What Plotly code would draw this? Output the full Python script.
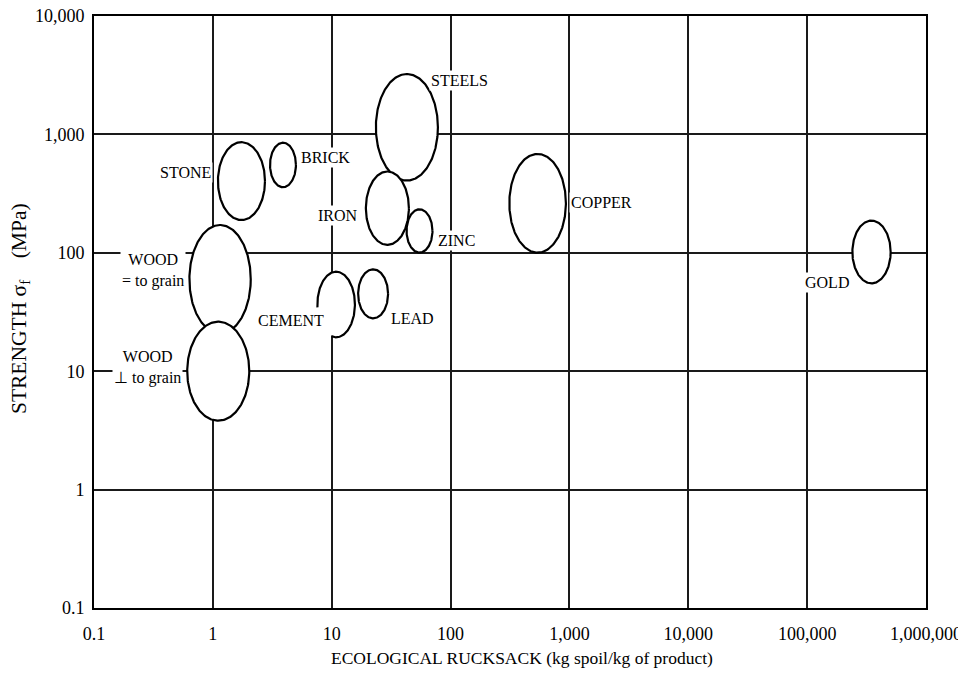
import numpy as np
import plotly.graph_objects as go

# ---- data ----
materials = ["STONE", "BRICK", "STEELS", "IRON", "ZINC", "WOOD =", "WOOD ⊥",
             "CEMENT", "LEAD", "COPPER", "GOLD"]
rucksack_center = [1.74, 3.89, 42.9, 29.4, 54.8, 1.15, 1.11, 10.9, 22.3, 540, 348000]
strength_center = [403, 552, 1148, 238, 153, 59.8, 10.0, 36.6, 45.0, 262, 101.6]
# half-extent of each bubble, in decades
rucksack_spread = [0.198, 0.109, 0.261, 0.181, 0.109, 0.258, 0.261, 0.158, 0.126, 0.238, 0.161]
strength_spread = [0.329, 0.188, 0.450, 0.310, 0.183, 0.458, 0.418, 0.277, 0.207, 0.417, 0.265]
# arc extent (degrees); cement is drawn as an open loop
arc_start = [0, 0, 0, 0, 0, 0, 0, -105, 0, 0, 0]
arc_end = [360, 360, 360, 360, 360, 360, 360, 185, 360, 360, 360]

label_text = ["STONE", "BRICK", "STEELS", "IRON", "ZINC", "WOOD<br>= to grain",
              "WOOD<br>⊥ to grain", "CEMENT", "LEAD", "COPPER", "GOLD"]
label_x = [0.594, 8.93, 119.7, 11.27, 113.0, 0.594, 0.561, 4.54, 48.2, 1871, 146200]
label_y = [481, 644, 2877, 208, 126, 70.2, 10.8, 27.0, 28.1, 264, 55.6]
label_xanchor = ["center", "center", "center", "center", "center", "right", "right",
                 "center", "center", "center", "center"]

x_tickvals = [0.1, 1, 10, 100, 1000, 10000, 100000, 1000000]
x_ticktext = ["0.1", "1", "10", "100", "1,000", "10,000", "100,000", "1,000,000"]
y_tickvals = [0.1, 1, 10, 100, 1000, 10000]
y_ticktext = ["0.1", "1", "10", "100", "1,000", "10,000"]

FONT = "Liberation Serif"

fig = go.Figure()
for i, name in enumerate(materials):
    t = np.radians(np.linspace(arc_start[i], arc_end[i], 240))
    cx, cy = np.log10(rucksack_center[i]), np.log10(strength_center[i])
    xs = 10 ** (cx + rucksack_spread[i] * np.cos(t))
    ys = 10 ** (cy + strength_spread[i] * np.sin(t))
    fig.add_trace(go.Scatter(
        x=xs, y=ys, mode="lines", fill="toself", fillcolor="white",
        line=dict(color="black", width=2.2), name=name,
        hoverinfo="skip", showlegend=False))

for txt, lx, ly, xa in zip(label_text, label_x, label_y, label_xanchor):
    fig.add_annotation(
        x=np.log10(lx), y=np.log10(ly), xref="x", yref="y", text=txt,
        showarrow=False, xanchor=xa, yanchor="middle", align="center",
        bgcolor="white", borderpad=1,
        font=dict(family=FONT, size=16, color="black"))

# axis titles
fig.add_annotation(
    x=0.514, y=-0.0845, xref="paper", yref="paper",
    text="ECOLOGICAL RUCKSACK (kg spoil/kg of product)", showarrow=False,
    xanchor="center", yanchor="middle",
    font=dict(family=FONT, size=17.5, color="black"))
fig.add_annotation(
    x=-0.0889, y=0.505, xref="paper", yref="paper",
    text="STRENGTH σ<sub>f</sub>\u00a0\u00a0\u00a0\u00a0(MPa)", showarrow=False, textangle=-90,
    xanchor="center", yanchor="middle",
    font=dict(family=FONT, size=21.5, color="black"))

axis_common = dict(
    type="log", showgrid=True, gridcolor="#1a1a1a", gridwidth=1.5,
    showline=True, linecolor="black", linewidth=2, mirror=True,
    zeroline=False, ticks="", automargin=False, ticklabeloverflow="allow",
    tickfont=dict(family=FONT, size=18, color="black"),
)

fig.update_xaxes(range=[-1, 6], tickvals=x_tickvals, ticktext=x_ticktext,
                 ticklabelstandoff=8, **axis_common)
fig.update_yaxes(range=[-1, 4], tickvals=y_tickvals, ticktext=y_ticktext,
                 ticklabelstandoff=4, **axis_common)

fig.update_layout(
    width=966, height=682,
    margin=dict(l=86, r=48, t=8, b=82),
    paper_bgcolor="white", plot_bgcolor="white",
    showlegend=False,
)

fig.write_html("out.html")
